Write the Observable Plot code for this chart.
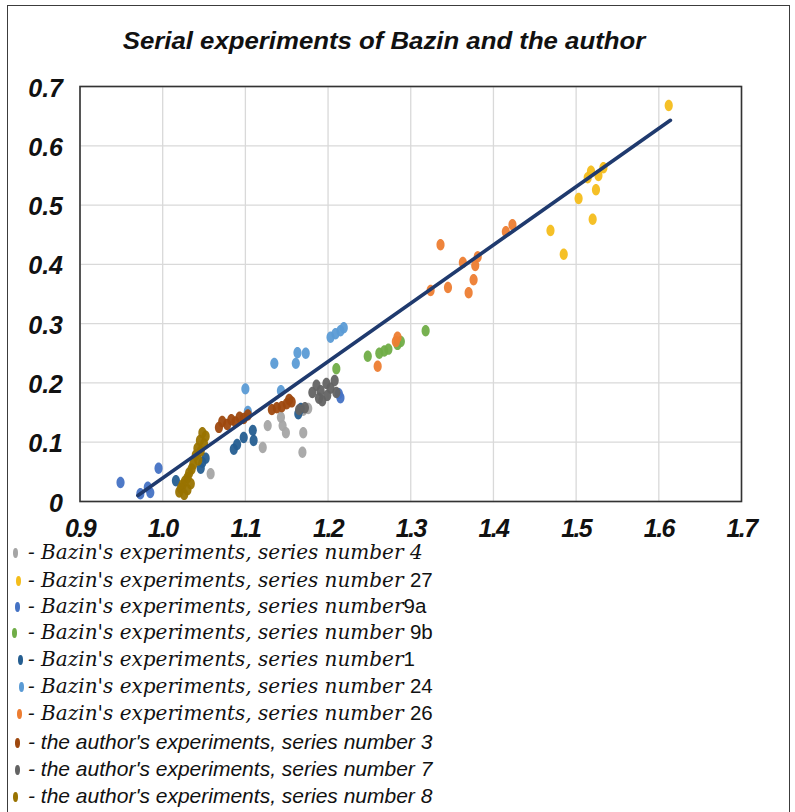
<!DOCTYPE html>
<html><head><meta charset="utf-8">
<script src="https://cdn.jsdelivr.net/npm/d3@7"></script>
<script src="https://cdn.jsdelivr.net/npm/@observablehq/plot@0.6"></script>
<style>
body{margin:0;background:#fff;}
#wrap{position:relative;width:795px;height:812px;overflow:hidden;background:#fff;}
#border{position:absolute;left:7px;top:5px;width:783px;height:830px;border:1.5px solid #3c3c3c;box-sizing:border-box;}
#title{position:absolute;left:0;top:28px;width:768px;text-align:center;font:italic bold 23px "Liberation Sans",Arial,sans-serif;color:#111;line-height:26px;transform:scaleX(1.12);transform-origin:384px 0;}
#chart{position:absolute;left:0;top:60px;}
#chart g[aria-label="x-axis tick label"] text{letter-spacing:-1.6px;}
.leg{position:absolute;left:0;height:26px;line-height:26px;white-space:nowrap;color:#111;}
.mk{position:absolute;top:8px;width:5px;height:10px;border-radius:50%;}
.tx{position:absolute;left:28px;top:0;}
.serif{font:italic 20px "DejaVu Serif",serif;}
.sans{font:italic 21px "Liberation Sans",Arial,sans-serif;}
.num{font:normal 20.5px "Liberation Sans",Arial,sans-serif;}
</style></head>
<body><div id="wrap"><div id="border"></div><div id="title">Serial experiments of Bazin and the author</div><div id="chart"></div></div>
<script>
// ---- data ----
const xTicks = [0.9, 1.0, 1.1, 1.2, 1.3, 1.4, 1.5, 1.6, 1.7];
const yTicks = [0, 0.1, 0.2, 0.3, 0.4, 0.5, 0.6, 0.7];

const bazin4 = [[1.058,0.047],[1.121,0.091],[1.127,0.128],[1.143,0.142],[1.145,0.128],[1.149,0.116],[1.170,0.116],[1.169,0.083],[1.176,0.157],[1.170,0.154]];
const bazin27 = [[1.612,0.668],[1.518,0.557],[1.514,0.546],[1.527,0.550],[1.533,0.563],[1.524,0.526],[1.503,0.511],[1.520,0.476],[1.469,0.457],[1.485,0.417]];
const bazin9a = [[0.949,0.032],[0.973,0.013],[0.982,0.024],[0.985,0.015],[0.995,0.056],[1.213,0.182],[1.215,0.175]];
const bazin9b = [[1.210,0.224],[1.248,0.245],[1.262,0.250],[1.268,0.254],[1.273,0.257],[1.284,0.265],[1.288,0.270],[1.318,0.288]];
const bazin1 = [[1.016,0.035],[1.046,0.056],[1.048,0.066],[1.052,0.073],[1.086,0.088],[1.090,0.096],[1.098,0.108],[1.109,0.120],[1.110,0.103],[1.164,0.148],[1.167,0.157]];
const bazin24 = [[1.100,0.190],[1.103,0.152],[1.135,0.233],[1.143,0.187],[1.161,0.233],[1.163,0.251],[1.173,0.250],[1.203,0.277],[1.209,0.283],[1.215,0.288],[1.219,0.293]];
const bazin26 = [[1.260,0.228],[1.282,0.270],[1.284,0.277],[1.324,0.356],[1.336,0.433],[1.345,0.361],[1.363,0.403],[1.370,0.352],[1.376,0.374],[1.378,0.398],[1.381,0.413],[1.415,0.455],[1.423,0.467]];
const author3 = [[1.068,0.125],[1.072,0.135],[1.078,0.130],[1.083,0.138],[1.088,0.134],[1.093,0.142],[1.098,0.140],[1.103,0.146],[1.132,0.155],[1.138,0.158],[1.144,0.160],[1.150,0.165],[1.153,0.172],[1.156,0.168]];
const author7 = [[1.181,0.184],[1.186,0.196],[1.191,0.187],[1.193,0.170],[1.198,0.199],[1.203,0.191],[1.208,0.204],[1.210,0.184],[1.189,0.174],[1.199,0.179],[1.165,0.155],[1.172,0.158]];
const author8 = [[1.048,0.116],[1.052,0.110],[1.045,0.103],[1.050,0.097],[1.042,0.090],[1.046,0.085],[1.040,0.078],[1.043,0.070],[1.037,0.063],[1.035,0.055],[1.032,0.048],[1.030,0.040],[1.027,0.034],[1.024,0.028],[1.022,0.022],[1.020,0.016],[1.030,0.020],[1.026,0.012],[1.034,0.030]];

const trendX = [0.970, 1.614];
const trendY = [0.010, 0.643];

const seriesData = [bazin4, bazin27, bazin9a, bazin9b, bazin1, bazin24, bazin26, author3, author7, author8];
const seriesColors = ["#a5a5a5", "#f4bd1b", "#4472c4", "#70ad47", "#255e91", "#5b9bd5", "#ed7d31", "#9e480e", "#636363", "#997300"];
const legendText = [
  "- Bazin's experiments, series number ",
  "- Bazin's experiments, series number ",
  "- Bazin's experiments, series number",
  "- Bazin's experiments, series number ",
  " - Bazin's experiments, series number",
  "- Bazin's experiments, series number ",
  "- Bazin's experiments, series number ",
  "- the author's experiments, series number ",
  "- the author's experiments, series number ",
  "- the author's experiments, series number "
];
const legendNums = ["4", "27", "9a", "9b", "1", "24", "26", "3", "7", "8"];

// ---- ellipse symbol ----
const ellipse = {
  draw(ctx, size) {
    const r = Math.sqrt(size / Math.PI);
    const rx = r * 0.78, ry = r * 1.1, k = 0.5523;
    ctx.moveTo(rx, 0);
    ctx.bezierCurveTo(rx, ry * k, rx * k, ry, 0, ry);
    ctx.bezierCurveTo(-rx * k, ry, -rx, ry * k, -rx, 0);
    ctx.bezierCurveTo(-rx, -ry * k, -rx * k, -ry, 0, -ry);
    ctx.bezierCurveTo(rx * k, -ry, rx, -ry * k, rx, 0);
    ctx.closePath();
  }
};

const trend = trendX.map((x, i) => ({x, y: trendY[i]}));

const dotMarks = seriesData.map((s, i) => Plot.dot(s, {
  x: d => d[0], y: d => d[1], r: 5.2, symbol: ellipse,
  fill: seriesColors[i], fillOpacity: 0.95, stroke: "none"
}));

const chart = Plot.plot({
  width: 795,
  height: 486,
  marginTop: 26,
  marginBottom: 45,
  marginLeft: 79.5,
  marginRight: 54,
  x: {domain: [0.9, 1.7]},
  y: {domain: [0, 0.7]},
  style: {background: "transparent", overflow: "visible"},
  marks: [
    Plot.gridX(xTicks, {stroke: "#d9d9d9", strokeOpacity: 1, strokeWidth: 1.3}),
    Plot.gridY(yTicks, {stroke: "#d9d9d9", strokeOpacity: 1, strokeWidth: 1.3}),
    ...dotMarks,
    Plot.line(trend, {x: "x", y: "y", stroke: "#1f3a6e", strokeWidth: 3.6}),
    Plot.frame({stroke: "#333", strokeWidth: 1.6}),
    Plot.axisX(xTicks, {tickSize: 0, tickPadding: 18, tickFormat: d => d.toFixed(1),
      fontSize: 25, fontWeight: "bold", fontStyle: "italic", fontFamily: "'Liberation Sans',Arial,sans-serif", fill: "#111", label: null}),
    Plot.axisY(yTicks, {tickSize: 0, tickPadding: 17, dy: 2, tickFormat: d => d === 0 ? "0" : d.toFixed(1),
      fontSize: 25, fontWeight: "bold", fontStyle: "italic", fontFamily: "'Liberation Sans',Arial,sans-serif", fill: "#111", label: null})
  ]
});
document.getElementById("chart").appendChild(chart);

// ---- legend ----
const wrap = document.getElementById("wrap");
const legY = [553, 581, 607, 633, 660, 687, 714, 743, 770, 797];
const mkX = [15, 18, 17, 14, 20, 21, 19, 17, 17, 15];
legendNums.forEach((n, i) => {
  const row = document.createElement("div");
  row.className = "leg";
  row.style.top = (legY[i] - 13) + "px";
  const mk = document.createElement("span");
  mk.className = "mk";
  mk.style.left = (mkX[i] - 2.5) + "px";
  mk.style.background = seriesColors[i];
  row.appendChild(mk);
  const tx = document.createElement("span");
  tx.className = "tx " + (i < 7 ? "serif" : "sans");
  tx.textContent = legendText[i];
  if (i < 7 && i > 0) {
    const num = document.createElement("span");
    num.className = "num";
    num.textContent = n;
    tx.appendChild(num);
  } else {
    tx.appendChild(document.createTextNode(n));
  }
  row.appendChild(tx);
  wrap.appendChild(row);
});
</script></body></html>
